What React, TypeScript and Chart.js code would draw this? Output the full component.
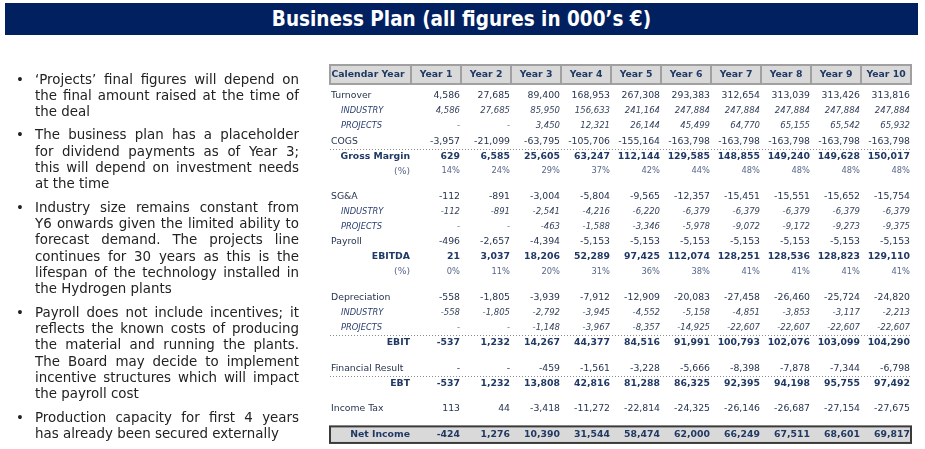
import React, { useEffect, useRef } from "react";
import { Chart, registerables } from "chart.js";
Chart.register(...registerables);

const years = ["Year 1", "Year 2", "Year 3", "Year 4", "Year 5", "Year 6", "Year 7", "Year 8", "Year 9", "Year 10"];
const turnover = [4586, 27685, 89400, 168953, 267308, 293383, 312654, 313039, 313426, 313816];
const turnoverIndustry = [4586, 27685, 85950, 156633, 241164, 247884, 247884, 247884, 247884, 247884];
const turnoverProjects = [null, null, 3450, 12321, 26144, 45499, 64770, 65155, 65542, 65932];
const cogs = [-3957, -21099, -63795, -105706, -155164, -163798, -163798, -163798, -163798, -163798];
const grossMargin = [629, 6585, 25605, 63247, 112144, 129585, 148855, 149240, 149628, 150017];
const grossMarginPct = [14, 24, 29, 37, 42, 44, 48, 48, 48, 48];
const sga = [-112, -891, -3004, -5804, -9565, -12357, -15451, -15551, -15652, -15754];
const sgaIndustry = [-112, -891, -2541, -4216, -6220, -6379, -6379, -6379, -6379, -6379];
const sgaProjects = [null, null, -463, -1588, -3346, -5978, -9072, -9172, -9273, -9375];
const payroll = [-496, -2657, -4394, -5153, -5153, -5153, -5153, -5153, -5153, -5153];
const ebitda = [21, 3037, 18206, 52289, 97425, 112074, 128251, 128536, 128823, 129110];
const ebitdaPct = [0, 11, 20, 31, 36, 38, 41, 41, 41, 41];
const depreciation = [-558, -1805, -3939, -7912, -12909, -20083, -27458, -26460, -25724, -24820];
const depIndustry = [-558, -1805, -2792, -3945, -4552, -5158, -4851, -3853, -3117, -2213];
const depProjects = [null, null, -1148, -3967, -8357, -14925, -22607, -22607, -22607, -22607];
const ebit = [-537, 1232, 14267, 44377, 84516, 91991, 100793, 102076, 103099, 104290];
const financialResult = [null, null, -459, -1561, -3228, -5666, -8398, -7878, -7344, -6798];
const ebt = [-537, 1232, 13808, 42816, 81288, 86325, 92395, 94198, 95755, 97492];
const incomeTax = [113, 44, -3418, -11272, -22814, -24325, -26146, -26687, -27154, -27675];
const netIncome = [-424, 1276, 10390, 31544, 58474, 62000, 66249, 67511, 68601, 69817];

const headerLabel = "Calendar Year";
const titleText = "Business Plan (all figures in 000’s €)";

const bullets = [
  ["‘Projects’ final figures will depend on", "the final amount raised at the time of", "the deal"],
  ["The business plan has a placeholder", "for dividend payments as of Year 3;", "this will depend on investment needs", "at the time"],
  [
    "Industry size remains constant from",
    "Y6 onwards given the limited ability to",
    "forecast demand. The projects line",
    "continues for 30 years as this is the",
    "lifespan of the technology installed in",
    "the Hydrogen plants",
  ],
  [
    "Payroll does not include incentives; it",
    "reflects the known costs of producing",
    "the material and running the plants.",
    "The Board may decide to implement",
    "incentive structures which will impact",
    "the payroll cost",
  ],
  ["Production capacity for first 4 years", "has already been secured externally"],
];

type Kind = "main" | "sub" | "total" | "pct" | "net";
type Row = { label: string; kind: Kind; values: (number | null)[]; gap?: boolean; dotted?: boolean };

const rows: Row[] = [
  { label: "Turnover", kind: "main", values: turnover },
  { label: "INDUSTRY", kind: "sub", values: turnoverIndustry },
  { label: "PROJECTS", kind: "sub", values: turnoverProjects },
  { label: "COGS", kind: "main", values: cogs, dotted: true },
  { label: "Gross Margin", kind: "total", values: grossMargin },
  { label: "(%)", kind: "pct", values: grossMarginPct },
  { label: "SG&A", kind: "main", values: sga, gap: true },
  { label: "INDUSTRY", kind: "sub", values: sgaIndustry },
  { label: "PROJECTS", kind: "sub", values: sgaProjects },
  { label: "Payroll", kind: "main", values: payroll },
  { label: "EBITDA", kind: "total", values: ebitda },
  { label: "(%)", kind: "pct", values: ebitdaPct },
  { label: "Depreciation", kind: "main", values: depreciation, gap: true },
  { label: "INDUSTRY", kind: "sub", values: depIndustry },
  { label: "PROJECTS", kind: "sub", values: depProjects, dotted: true },
  { label: "EBIT", kind: "total", values: ebit },
  { label: "Financial Result", kind: "main", values: financialResult, gap: true, dotted: true },
  { label: "EBT", kind: "total", values: ebt },
  { label: "Income Tax", kind: "main", values: incomeTax, gap: true },
  { label: "Net Income", kind: "net", values: netIncome, gap: true },
];

const GAP = 1.7;
const HEADER_POS = -1.43;
const LABEL_COL = 81;
const FONT = "'DejaVu Sans', Verdana, sans-serif";

const rowPos: number[] = [];
{
  let p = 0;
  rows.forEach((r, i) => {
    if (i > 0) p += r.gap ? GAP : 1;
    rowPos.push(p);
  });
}

const styles: Record<Kind, { lf: string; vf: string; lc: string; vc: string; align: "left" | "right"; indent: number }> = {
  main: { lf: `9.3px ${FONT}`, vf: `9.3px ${FONT}`, lc: "#27344f", vc: "#27344f", align: "left", indent: 1 },
  sub: { lf: `italic 8.3px ${FONT}`, vf: `italic 8.5px ${FONT}`, lc: "#2a3f70", vc: "#36435c", align: "left", indent: 11 },
  total: { lf: `bold 9.3px ${FONT}`, vf: `bold 9.3px ${FONT}`, lc: "#1f3864", vc: "#1f3864", align: "right", indent: 0 },
  pct: { lf: `9.2px ${FONT}`, vf: `8.3px ${FONT}`, lc: "#56678a", vc: "#56678a", align: "right", indent: 0 },
  net: { lf: `bold 9.3px ${FONT}`, vf: `bold 9.3px ${FONT}`, lc: "#1f3864", vc: "#1f3864", align: "right", indent: 0 },
};

function fmt(v: number | null, kind: Kind) {
  if (v === null) return "-";
  if (kind === "pct") return `${v}%`;
  return v.toLocaleString("en-US");
}

const tablePlugin = {
  id: "tablePlugin",
  beforeDatasetsDraw(chart: any) {
    const { ctx, chartArea, scales } = chart;
    const x = scales.x;
    const y = scales.y;
    const left = chartArea.left - LABEL_COL;
    const right = chartArea.right;
    const half = (x.getPixelForValue(1) - x.getPixelForValue(0)) / 2;
    ctx.save();
    const hTop = y.getPixelForValue(HEADER_POS - 0.63);
    const hBot = y.getPixelForValue(HEADER_POS + 0.63);
    ctx.fillStyle = "#d9d9d9";
    ctx.fillRect(left, hTop, right - left, hBot - hTop);
    ctx.strokeStyle = "#a0a0a0";
    ctx.lineWidth = 2;
    ctx.strokeRect(left, hTop, right - left, hBot - hTop);
    for (let i = 0; i < years.length; i++) {
      const bx = x.getPixelForValue(i) - half;
      ctx.beginPath();
      ctx.moveTo(bx, hTop);
      ctx.lineTo(bx, hBot);
      ctx.stroke();
    }
    const ni = rows.findIndex((r) => r.kind === "net");
    const nTop = y.getPixelForValue(rowPos[ni] - 0.55);
    const nBot = y.getPixelForValue(rowPos[ni] + 0.55);
    ctx.fillStyle = "#d9d9d9";
    ctx.fillRect(left, nTop, right - left, nBot - nTop);
    ctx.strokeStyle = "#3a3a3a";
    ctx.lineWidth = 2;
    ctx.strokeRect(left, nTop, right - left, nBot - nTop);
    ctx.strokeStyle = "#8c8c8c";
    ctx.lineWidth = 1;
    ctx.setLineDash([1, 2]);
    rows.forEach((r, i) => {
      if (!r.dotted) return;
      const yy = Math.round(y.getPixelForValue((rowPos[i] + rowPos[i + 1]) / 2)) + 0.5;
      ctx.beginPath();
      ctx.moveTo(left, yy);
      ctx.lineTo(right, yy);
      ctx.stroke();
    });
    ctx.setLineDash([]);
    ctx.restore();
  },
  afterDatasetsDraw(chart: any) {
    const { ctx, chartArea, scales } = chart;
    const x = scales.x;
    const y = scales.y;
    const left = chartArea.left - LABEL_COL;
    const half = (x.getPixelForValue(1) - x.getPixelForValue(0)) / 2;
    ctx.save();
    ctx.textBaseline = "middle";
    const hy = y.getPixelForValue(HEADER_POS);
    ctx.font = `bold 9.3px ${FONT}`;
    ctx.fillStyle = "#1f3864";
    ctx.textAlign = "left";
    ctx.fillText(headerLabel, left + 1.5, hy);
    ctx.textAlign = "center";
    years.forEach((yr, i) => ctx.fillText(yr, x.getPixelForValue(i), hy));
    rows.forEach((r, i) => {
      const meta = chart.getDatasetMeta(i);
      const st = styles[r.kind];
      const py = meta.data[0].y;
      ctx.font = st.lf;
      ctx.fillStyle = st.lc;
      if (st.align === "left") {
        ctx.textAlign = "left";
        ctx.fillText(r.label, left + st.indent, py);
      } else {
        ctx.textAlign = "right";
        ctx.fillText(r.label, chartArea.left - 1, py);
      }
      ctx.font = st.vf;
      ctx.fillStyle = st.vc;
      ctx.textAlign = "right";
      meta.data.forEach((pt: any, j: number) => {
        ctx.fillText(fmt(r.values[j], r.kind), pt.x + half - 1, pt.y);
      });
    });
    ctx.restore();
  },
};

export default function App() {
  const ref = useRef<HTMLCanvasElement>(null);
  useEffect(() => {
    const chart = new Chart(ref.current as HTMLCanvasElement, {
      type: "line",
      data: {
        labels: years,
        datasets: rows.map((r, i) => ({
          label: r.label,
          data: years.map(() => rowPos[i]),
          pointRadius: 0,
          showLine: false,
        })),
      },
      options: {
        animation: false,
        responsive: false,
        devicePixelRatio: 1,
        events: [],
        layout: { padding: { left: 411, right: 14, top: 62.9, bottom: 3.8 } },
        plugins: { legend: { display: false }, tooltip: { enabled: false } },
        scales: {
          x: { type: "category", offset: true, display: false },
          y: { type: "linear", reverse: true, min: -2.2, max: 23.2, display: false },
        },
      },
      plugins: [tablePlugin],
    } as any);
    return () => chart.destroy();
  }, []);

  return (
    <div style={{ position: "absolute", left: 0, top: 0, width: 925, height: 449, background: "#fff", overflow: "hidden" }}>
      <canvas ref={ref} width={925} height={449} style={{ position: "absolute", left: 0, top: 0, width: 925, height: 449 }} />
      <div
        style={{
          position: "absolute",
          left: 5,
          top: 3,
          width: 913,
          height: 32,
          background: "#002060",
          color: "#fff",
          fontFamily: "'DejaVu Sans Condensed', 'DejaVu Sans', sans-serif",
          fontStretch: "condensed",
          fontWeight: "bold",
          fontSize: 20.5,
          lineHeight: "32px",
          textAlign: "center",
        }}
      >
        {titleText}
      </div>
      <div style={{ position: "absolute", left: 0, top: 71.5, width: 320, fontFamily: FONT, fontSize: 13.4, lineHeight: "16.3px", color: "#222" }}>
        {bullets.map((lines, bi) => (
          <div key={bi} style={{ position: "relative", marginBottom: 7.1 }}>
            <span style={{ position: "absolute", left: 16, top: 0 }}>•</span>
            <div style={{ marginLeft: 35, width: 264 }}>
              {lines.map((ln, li) => (
                <div
                  key={li}
                  style={{
                    textAlign: li < lines.length - 1 ? "justify" : "left",
                    textAlignLast: li < lines.length - 1 ? "justify" : "left",
                    height: 16.3,
                  }}
                >
                  {ln}
                </div>
              ))}
            </div>
          </div>
        ))}
      </div>
    </div>
  );
}
